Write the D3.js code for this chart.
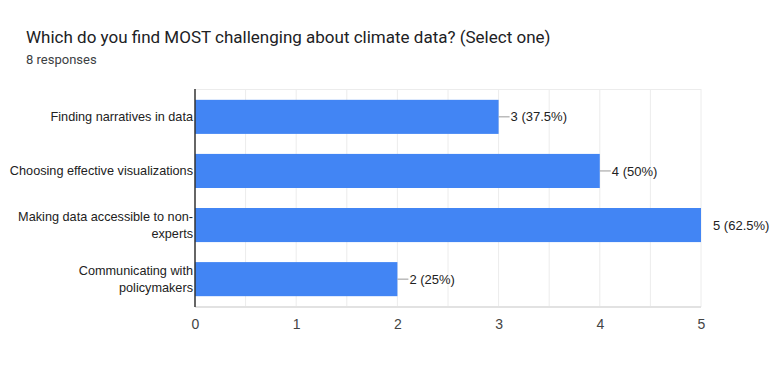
<!DOCTYPE html>
<html>
<head>
<meta charset="utf-8">
<script src="https://cdn.jsdelivr.net/npm/d3@7"></script>
<style>
  body { margin: 0; background: #fff; font-family: "Liberation Sans", Arial, sans-serif; }
  svg text { font-family: "Liberation Sans", Arial, sans-serif; }
  svg text.head { font-family: Roboto, Arial, sans-serif; }
</style>
</head>
<body>
<div id="chart"></div>
<script>
// data
const titleText = "Which do you find MOST challenging about climate data? (Select one)";
const subtitleText = "8 responses";
const categories = [
	["Finding narratives in data"],
	["Choosing effective visualizations"],
	["Making data accessible to non-", "experts"],
	["Communicating with", "policymakers"]
];
const counts = [3, 4, 5, 2];
const valueLabels = ["3 (37.5%)", "4 (50%)", "5 (62.5%)", "2 (25%)"];
const xTicks = [0, 1, 2, 3, 4, 5];

const W = 781, H = 371;
const margin = {top: 89, right: 80, bottom: 64, left: 195};
const width = W - margin.left - margin.right;
const height = H - margin.top - margin.bottom;

const svg = d3.select("#chart").append("svg")
	.attr("width", W)
	.attr("height", H);

// title + subtitle
svg.append("text")
	.attr("class", "head")
	.attr("x", 26).attr("y", 43)
	.style("font-size", "17px")
	.attr("fill", "#202124")
	.text(titleText);

svg.append("text")
	.attr("class", "head")
	.attr("x", 26).attr("y", 64)
	.style("font-size", "13px")
	.attr("fill", "#3c4043")
	.text(subtitleText);

const g = svg.append("g")
	.attr("transform", "translate(" + margin.left + "," + margin.top + ")");

const x = d3.scaleLinear()
	.domain([0, 5])
	.range([0, width]);

const y = d3.scaleBand()
	.domain(d3.range(categories.length))
	.range([0, height])
	.paddingInner(0.37)
	.paddingOuter(0.2);

// gridlines every half unit
g.selectAll(".grid")
	.data(d3.range(0.5, 5.01, 0.5))
	.enter().append("line")
	.attr("class", "grid")
	.attr("x1", d => x(d)).attr("x2", d => x(d))
	.attr("y1", 0).attr("y2", height)
	.attr("stroke", "#ececec")
	.attr("stroke-width", 1);

g.append("line")
	.attr("x1", 0).attr("x2", width)
	.attr("y1", 0.5).attr("y2", 0.5)
	.attr("stroke", "#ececec");

g.append("line")
	.attr("x1", 0).attr("x2", width)
	.attr("y1", height).attr("y2", height)
	.attr("stroke", "#e2e2e2")
	.attr("stroke-width", 2);

// bars
g.selectAll(".bar")
	.data(counts)
	.enter().append("rect")
	.attr("class", "bar")
	.attr("x", 0)
	.attr("y", (d, i) => y(i))
	.attr("width", d => x(d))
	.attr("height", y.bandwidth())
	.attr("fill", "#4285f4");

// leader lines + value labels
counts.forEach((d, i) => {
	const cy = y(i) + y.bandwidth() / 2;
	const isMax = d === d3.max(counts);
	if (!isMax) {
		g.append("line")
			.attr("x1", x(d)).attr("x2", x(d) + 11)
			.attr("y1", cy).attr("y2", cy)
			.attr("stroke", "#999")
			.attr("stroke-width", 1);
	}
	g.append("text")
		.attr("x", x(d) + 12)
		.attr("y", cy)
		.attr("dy", "0.35em")
		.style("font-size", "13px")
		.attr("fill", "#222")
		.text(valueLabels[i]);
});

// category labels
categories.forEach((lines, i) => {
	const cy = y(i) + y.bandwidth() / 2;
	const t = g.append("text")
		.attr("text-anchor", "end")
		.style("font-size", "12.7px")
		.attr("fill", "#222");
	lines.forEach((ln, j) => {
		t.append("tspan")
			.attr("x", -2)
			.attr("y", cy + (j - (lines.length - 1) / 2) * 17)
			.attr("dy", "0.35em")
			.text(ln);
	});
});

// left axis line
g.append("line")
	.attr("x1", 0).attr("x2", 0)
	.attr("y1", 0).attr("y2", height)
	.attr("stroke", "#333")
	.attr("stroke-width", 1.5);

// x axis tick labels
const xAxis = d3.axisBottom(x)
	.tickValues(xTicks)
	.tickSize(0)
	.tickPadding(12)
	.tickFormat(d3.format("d"));

const ax = g.append("g")
	.attr("transform", "translate(0," + height + ")")
	.call(xAxis);
ax.select(".domain").remove();
ax.selectAll("text")
	.style("font-size", "14px")
	.attr("fill", "#444");
</script>
</body>
</html>
